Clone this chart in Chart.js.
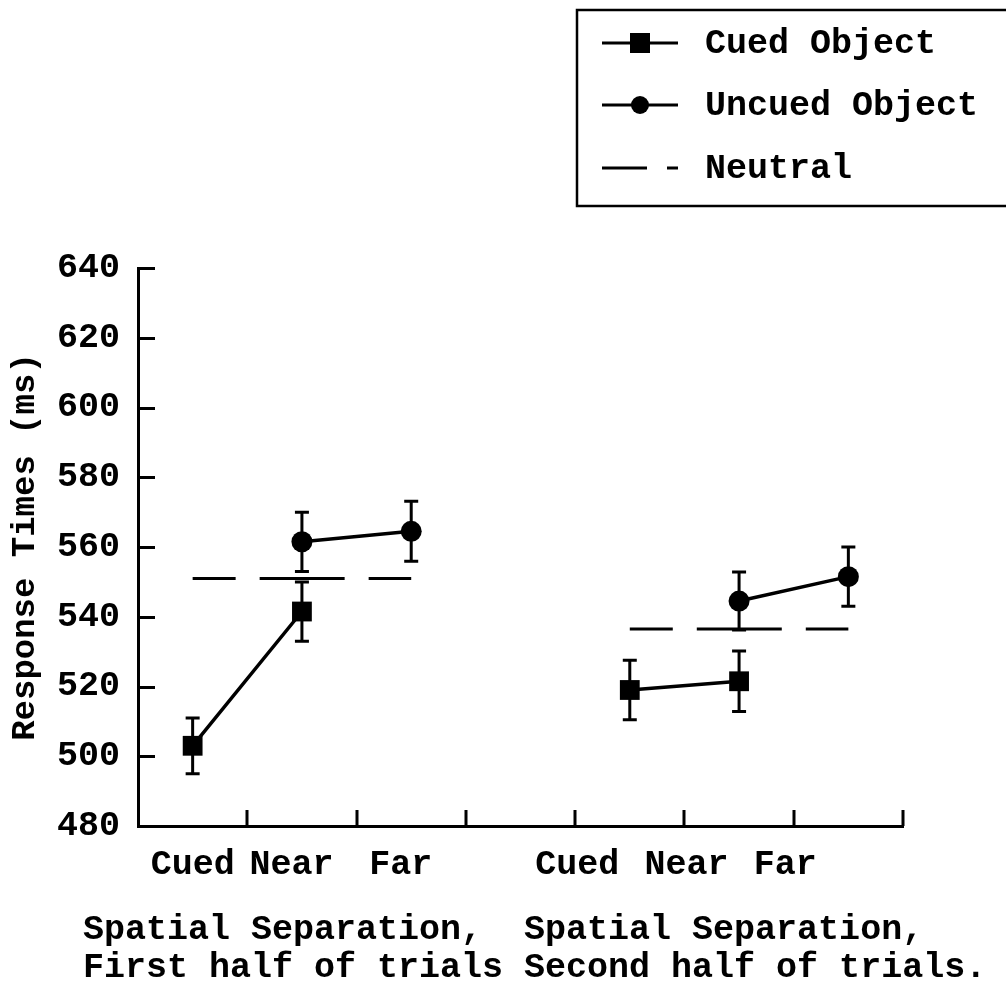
<!DOCTYPE html>
<html><head><meta charset="utf-8">
<script src="https://cdn.jsdelivr.net/npm/chart.js@4.4.1/dist/chart.umd.min.js"></script>
<style>html,body{margin:0;padding:0;background:#fff;} canvas{display:block;}</style>
</head><body>
<canvas id="c" width="1006" height="987"></canvas>
<script>
// ---- data ----
const categories   = ['Cued', 'Near ', 'Far ', '', 'Cued     ', 'Near     ', 'Far      '];
const cuedObject   = [503, 541.5, null, null, 519, 521.5, null];
const cuedErr      = [8, 8.5, null, null, 8.5, 8.7, null];
const uncuedObject = [null, 561.5, 564.5, null, null, 544.5, 551.5];
const uncuedErr    = [null, 8.5, 8.6, null, null, 8.3, 8.5];
const neutral      = [551, 551, 551, null, 536.5, 536.5, 536.5];
const yMin = 480, yMax = 640, yStep = 20;
const yAxisTitle = 'Response Times (ms)';
const captionLines = ['Spatial Separation,  Spatial Separation,',
                      'First half of trials Second half of trials.'];
const seriesLabels = ['Cued Object', 'Uncued Object', 'Neutral'];

const FONT = '"Liberation Mono", "Courier New", monospace';

const errorBarPlugin = {
  id: 'errorBars',
  afterDatasetsDraw(chart) {
    const ctx = chart.ctx, y = chart.scales.y;
    chart.data.datasets.forEach((ds, i) => {
      if (!ds.errorBars) return;
      const meta = chart.getDatasetMeta(i);
      ctx.save();
      ctx.strokeStyle = '#000';
      ctx.lineWidth = 3;
      ds.data.forEach((v, j) => {
        const e = ds.errorBars[j];
        if (v == null || e == null) return;
        const px = meta.data[j].x;
        const top = y.getPixelForValue(v + e), bot = y.getPixelForValue(v - e);
        ctx.beginPath();
        ctx.moveTo(px, top); ctx.lineTo(px, bot);
        ctx.moveTo(px - 7, top); ctx.lineTo(px + 7, top);
        ctx.moveTo(px - 7, bot); ctx.lineTo(px + 7, bot);
        ctx.stroke();
      });
      ctx.restore();
    });
  }
};

const innerTicksPlugin = {
  id: 'innerTicks',
  afterDraw(chart) {
    const ctx = chart.ctx, x = chart.scales.x, y = chart.scales.y, a = chart.chartArea;
    ctx.save();
    ctx.strokeStyle = '#000';
    ctx.lineWidth = 3;
    ctx.beginPath();
    y.ticks.forEach(t => {
      const py = Math.round(y.getPixelForValue(t.value)) + 0.5;
      ctx.moveTo(a.left, py); ctx.lineTo(a.left + 17, py);
    });
    for (let i = 1; i <= categories.length; i++) {
      const px = Math.round(x.getPixelForValue(i - 0.5));
      ctx.moveTo(px, a.bottom); ctx.lineTo(px, a.bottom - 16);
    }
    ctx.stroke();
    ctx.restore();
  }
};

const captionPlugin = {
  id: 'captions',
  afterDraw(chart) {
    const ctx = chart.ctx, a = chart.chartArea;
    ctx.save();
    ctx.font = 'bold 35px ' + FONT;
    ctx.fillStyle = '#000';
    ctx.textAlign = 'left';
    ctx.textBaseline = 'middle';
    captionLines.forEach((line, i) => {
      ctx.fillText(line, a.left - 55, a.bottom + 104 + i * 38);
    });
    ctx.restore();
  }
};

const legendPlugin = {
  id: 'boxLegend',
  afterDraw(chart) {
    const ctx = chart.ctx;
    const bx = 577, by = 10, bh = 196;
    ctx.save();
    ctx.strokeStyle = '#000';
    ctx.lineWidth = 2.5;
    ctx.strokeRect(bx, by, 600, bh);
    const rows = [43, 105, 168];
    ctx.font = 'bold 35px ' + FONT;
    ctx.textBaseline = 'middle';
    ctx.fillStyle = '#000';
    chart.data.datasets.forEach((ds, i) => {
      const ry = rows[i];
      ctx.lineWidth = 3;
      ctx.beginPath();
      if (ds.pointRadius === 0) {
        ctx.moveTo(602, ry); ctx.lineTo(647, ry);
        ctx.moveTo(667, ry); ctx.lineTo(678, ry);
        ctx.stroke();
      } else {
        ctx.moveTo(602, ry); ctx.lineTo(678, ry);
        ctx.stroke();
        ctx.beginPath();
        if (ds.pointStyle === 'rect') {
          ctx.rect(640 - 10, ry - 10, 20, 20);
        } else {
          ctx.arc(640, ry, 9, 0, Math.PI * 2);
        }
        ctx.fill();
      }
      ctx.fillText(ds.label, 705, ry + 1);
    });
    ctx.restore();
  }
};

new Chart(document.getElementById('c'), {
  type: 'line',
  data: {
    labels: categories,
    datasets: [
      { label: seriesLabels[0], data: cuedObject, errorBars: cuedErr,
        borderColor: '#000', backgroundColor: '#000', borderWidth: 3.5,
        pointStyle: 'rect', pointRadius: 14, pointBorderWidth: 0, spanGaps: false },
      { label: seriesLabels[1], data: uncuedObject, errorBars: uncuedErr,
        borderColor: '#000', backgroundColor: '#000', borderWidth: 3.5,
        pointStyle: 'circle', pointRadius: 10.5, pointBorderWidth: 0, spanGaps: false },
      { label: seriesLabels[2], data: neutral,
        borderColor: '#000', borderWidth: 3, borderDash: [43, 24, 85, 24],
        pointRadius: 0, spanGaps: false }
    ]
  },
  options: {
    responsive: false,
    animation: false,
    events: [],
    layout: { padding: { top: 268, right: 103, bottom: 0, left: 0 } },
    plugins: { legend: { display: false }, tooltip: { enabled: false } },
    scales: {
      x: {
        offset: true,
        grid: { display: false, drawTicks: false },
        border: { display: true, color: '#000', width: 3 },
        ticks: { color: '#000', padding: 18, maxRotation: 0, autoSkip: false,
                 font: { family: FONT, size: 35, weight: 'bold', lineHeight: 1.2 } },
        afterFit(s) { s.height = 161; }
      },
      y: {
        min: yMin, max: yMax,
        grid: { display: false, drawTicks: false },
        border: { display: true, color: '#000', width: 3 },
        ticks: { stepSize: yStep, color: '#000', padding: 18,
                 font: { family: FONT, size: 35, weight: 'bold' } },
        title: { display: true, text: yAxisTitle, color: '#000',
                 padding: { top: 5, bottom: 0 },
                 font: { family: FONT, size: 34, weight: 'bold', lineHeight: 1.2 } },
        afterFit(s) { s.width = 138; }
      }
    }
  },
  plugins: [errorBarPlugin, innerTicksPlugin, captionPlugin, legendPlugin]
});
</script>
</body></html>
